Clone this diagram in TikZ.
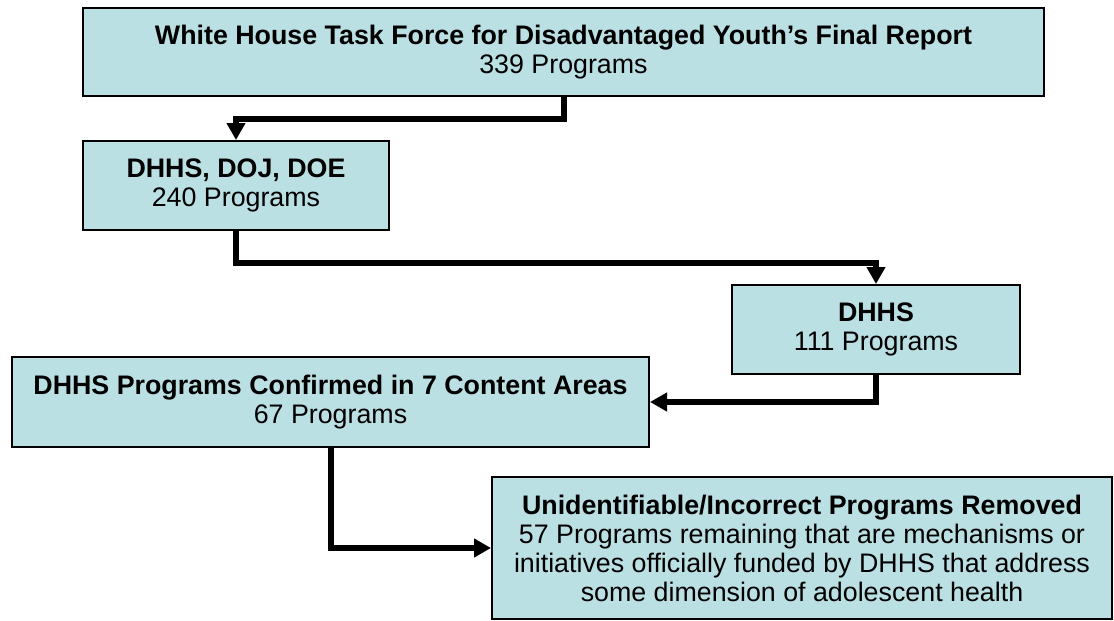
\documentclass[tikz,border=0pt]{standalone}
\usepackage{fontspec}
\setmainfont{Liberation Sans}
\usetikzlibrary{arrows.meta}

\definecolor{boxfill}{RGB}{187,224,227}

\begin{document}
\begin{tikzpicture}[x=0.5pt, y=-0.5pt,
    box/.style={draw=black, line width=1pt, fill=boxfill, align=center,
        inner sep=0pt, font=\fontsize{13.4}{14.5}\selectfont},
    flow/.style={line width=3pt, -{Triangle[length=8.5pt, width=9pt]}}]
    \useasboundingbox (0,0) rectangle (1114,621);

    % Boxes
    \node[box, minimum width=480.5pt, minimum height=44pt] (report) at (563.5, 52)
        {\textbf{White House Task Force for Disadvantaged Youth’s Final Report}\\339 Programs};
    \node[box, minimum width=153pt, minimum height=44.5pt] (agencies) at (236, 185.5)
        {\textbf{DHHS, DOJ, DOE}\\240 Programs};
    \node[box, minimum width=144pt, minimum height=44.5pt] (dhhs) at (876, 329.5)
        {\textbf{DHHS}\\111 Programs};
    \node[box, minimum width=318.5pt, minimum height=45pt] (confirmed) at (330.5, 402)
        {\textbf{DHHS Programs Confirmed in 7 Content Areas}\\67 Programs};
    \node[box, minimum width=310pt, minimum height=71pt] (removed) at (802, 548)
        {\textbf{Unidentifiable/Incorrect Programs Removed}\\57 Programs remaining that are mechanisms or\\initiatives officially funded by DHHS that address\\some dimension of adolescent health};

    % Connections
    \draw[flow] (report.south) -- ++(0,22) -| (agencies.north);
    \draw[flow] (agencies.south) -- ++(0,32) -| (dhhs.north);
    \draw[flow] (dhhs.south) |- (confirmed.east);
    \draw[flow] (confirmed.south) |- (removed.west);
\end{tikzpicture}
\end{document}
